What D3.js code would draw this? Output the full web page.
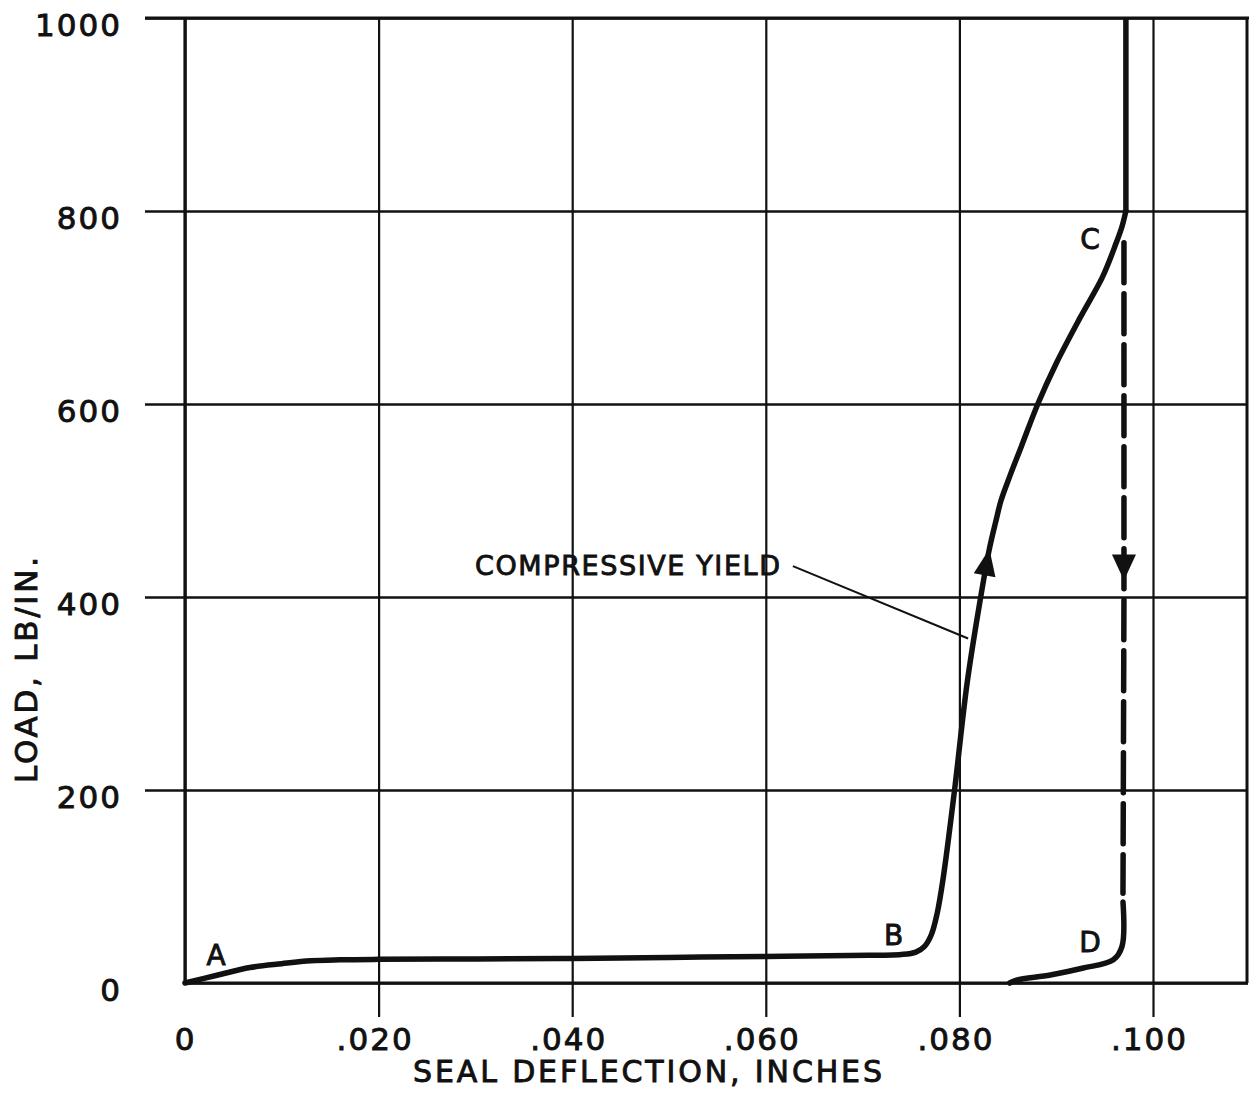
<!DOCTYPE html>
<html>
<head>
<meta charset="utf-8">
<script src="https://cdn.jsdelivr.net/npm/d3@7"></script>
<style>
  html, body { margin: 0; padding: 0; background: #fff; }
  svg { display: block; }
  text { font-family: "DejaVu Sans", sans-serif; fill: #111; stroke: #111; stroke-width: 0.9; }
</style>
</head>
<body>
<svg id="chart" width="1249" height="1111"></svg>
<script>
// ---- data ----
const xTicks = [0, 0.02, 0.04, 0.06, 0.08, 0.10];
const xTickLabels = ["0", ".020", ".040", ".060", ".080", ".100"];
const yTicks = [0, 200, 400, 600, 800, 1000];
const yTickLabels = ["0", "200", "400", "600", "800", "1000"];

// loading curve A -> B -> C -> 1000
const loadX = [0, 0.0033, 0.0067, 0.0100, 0.0130, 0.0160, 0.020, 0.030, 0.040, 0.050, 0.060, 0.0687, 0.0740, 0.0755, 0.0764, 0.0771, 0.0777, 0.0783, 0.0795, 0.0808, 0.0822, 0.0831, 0.0838, 0.0843, 0.0852, 0.0864, 0.0881, 0.0900, 0.0925, 0.0948, 0.0962, 0.0968, 0.0972];
const loadY = [0, 8, 16, 20, 23, 24, 24.5, 25, 25.5, 26.5, 27.5, 28.5, 29.5, 32, 38, 50, 72, 107, 200, 311, 400, 450, 480, 500, 525, 556, 600, 642, 690, 732, 767, 784, 800];
const loadTopX = [0.0972, 0.0972];
const loadTopY = [800, 1000];

// unloading C -> D (dashed) and D -> 0 (solid)
const unloadDashX = [0.0970, 0.0970, 0.0969];
const unloadDashY = [767, 400, 93];
const unloadSolidX = [0.0969, 0.0968, 0.0959, 0.0928, 0.0894, 0.0859, 0.0852];
const unloadSolidY = [84, 38, 24, 15.5, 8.3, 3, 0];

// arrows: tip, and a point behind it along the path
const upArrowTip = [0.0831, 450];
const upArrowBack = [0.0822, 400];
const downArrowTip = [0.0970, 417];
const downArrowBack = [0.0970, 500];

const pointLabels = ["A", "B", "C", "D"];
const pointLabelX = [0.0032, 0.0732, 0.0935, 0.0935];
const pointLabelY = [28, 49, 770, 42];

const annotText = "COMPRESSIVE YIELD";
const leaderX = [0.0628, 0.0809];
const leaderY = [432, 357];

// ---- scales ----
const svg = d3.select("#chart");
const x = d3.scaleLinear().domain([0, 0.11]).range([185, 185 + 9680 * 0.11]);
const y = d3.scaleLinear().domain([0, 1000]).range([983, 18]);
const ink = "#111";

// ---- y grid / axis ----
const yAxisG = svg.append("g").attr("transform", "translate(145,0)")
  .call(d3.axisLeft(y).tickValues(yTicks).tickSize(-(1248 - 145)).tickPadding(23)
    .tickFormat((d, i) => yTickLabels[i]));
yAxisG.select(".domain").remove();
yAxisG.selectAll(".tick line").attr("stroke", ink).attr("stroke-width", 2.5)
  .attr("x1", d => d === 0 ? 40 : 0);
yAxisG.selectAll(".tick text").attr("font-size", 31).attr("letter-spacing", 2)
  .attr("font-family", "DejaVu Sans").attr("fill", ink).attr("dy", "0.55em");

// ---- x grid / axis ----
const xAxisG = svg.append("g").attr("transform", "translate(0,1017)")
  .call(d3.axisBottom(x).tickValues(xTicks).tickSize(-(1017 - 18)).tickPadding(11)
    .tickFormat((d, i) => xTickLabels[i]));
xAxisG.select(".domain").remove();
xAxisG.selectAll(".tick line").attr("stroke", ink).attr("stroke-width", 2.2)
  .attr("y1", d => d === 0 ? -34 : 0);
xAxisG.selectAll(".tick text").attr("font-size", 31).attr("letter-spacing", 2)
  .attr("font-family", "DejaVu Sans").attr("fill", ink)
  .attr("dx", (d, i) => i === 0 ? 0 : -4);

// frame lines
svg.append("line").attr("x1", x(0)).attr("x2", x(0)).attr("y1", y(1000)).attr("y2", y(0))
  .attr("stroke", ink).attr("stroke-width", 3.2);
svg.append("line").attr("x1", x(0)).attr("x2", 1248).attr("y1", y(0)).attr("y2", y(0))
  .attr("stroke", ink).attr("stroke-width", 3);
svg.append("line").attr("x1", 145).attr("x2", 1249).attr("y1", y(1000)).attr("y2", y(1000))
  .attr("stroke", ink).attr("stroke-width", 3.2);
svg.append("line").attr("x1", 1247).attr("x2", 1247).attr("y1", y(1000)).attr("y2", y(0))
  .attr("stroke", ink).attr("stroke-width", 3);

// ---- curves ----
const lineCR = d3.line().x(d => x(d[0])).y(d => y(d[1])).curve(d3.curveCatmullRom.alpha(0.5));
const lineStraight = d3.line().x(d => x(d[0])).y(d => y(d[1]));

svg.append("path").datum(loadX.map((v, i) => [v, loadY[i]]))
  .attr("d", lineCR).attr("fill", "none").attr("stroke", ink).attr("stroke-width", 5.5)
  .attr("stroke-linecap", "round").attr("stroke-linejoin", "round");
svg.append("path").datum(loadTopX.map((v, i) => [v, loadTopY[i]]))
  .attr("d", lineStraight).attr("fill", "none").attr("stroke", ink).attr("stroke-width", 5.5)
  .attr("stroke-linecap", "butt");

svg.append("path").datum(unloadDashX.map((v, i) => [v, unloadDashY[i]]))
  .attr("d", lineStraight).attr("fill", "none").attr("stroke", ink).attr("stroke-width", 5.5)
  .attr("stroke-dasharray", "40,11").attr("stroke-linecap", "round");
svg.append("path").datum(unloadSolidX.map((v, i) => [v, unloadSolidY[i]]))
  .attr("d", lineCR).attr("fill", "none").attr("stroke", ink).attr("stroke-width", 5.5)
  .attr("stroke-linecap", "round").attr("stroke-linejoin", "round");

function arrowHead(tip, back, len, half) {
  const tx = x(tip[0]), ty = y(tip[1]);
  const bx = x(back[0]), by = y(back[1]);
  let dx = tx - bx, dy = ty - by;
  const L = Math.hypot(dx, dy); dx /= L; dy /= L;
  const cx = tx - dx * len, cy = ty - dy * len;
  const px = -dy, py = dx;
  svg.append("polygon")
    .attr("points", [[tx, ty], [cx + px * half, cy + py * half], [cx - px * half, cy - py * half]].map(p => p.join(",")).join(" "))
    .attr("fill", ink);
}
arrowHead(upArrowTip, upArrowBack, 27, 11);
arrowHead(downArrowTip, downArrowBack, 26, 12);

// ---- annotation ----
svg.append("line")
  .attr("x1", x(leaderX[0])).attr("y1", y(leaderY[0]))
  .attr("x2", x(leaderX[1])).attr("y2", y(leaderY[1]))
  .attr("stroke", ink).attr("stroke-width", 2);
svg.append("text").attr("x", 475).attr("y", 575).attr("font-size", 27)
  .attr("textLength", 305).attr("lengthAdjust", "spacing").text(annotText);

// point labels
svg.selectAll("text.pt").data(pointLabels).enter().append("text").attr("class", "pt")
  .attr("x", (d, i) => x(pointLabelX[i])).attr("y", (d, i) => y(pointLabelY[i]))
  .attr("font-size", 28).attr("text-anchor", "middle").attr("dominant-baseline", "central")
  .text(d => d);

// axis titles
svg.append("text").attr("x", 413).attr("y", 1082).attr("font-size", 30)
  .attr("textLength", 469).attr("lengthAdjust", "spacing").text("SEAL DEFLECTION, INCHES");
svg.append("text").attr("transform", "translate(37,783) rotate(-90)")
  .attr("font-size", 31).attr("textLength", 226).attr("lengthAdjust", "spacing")
  .text("LOAD, LB/IN.");
</script>
</body>
</html>
